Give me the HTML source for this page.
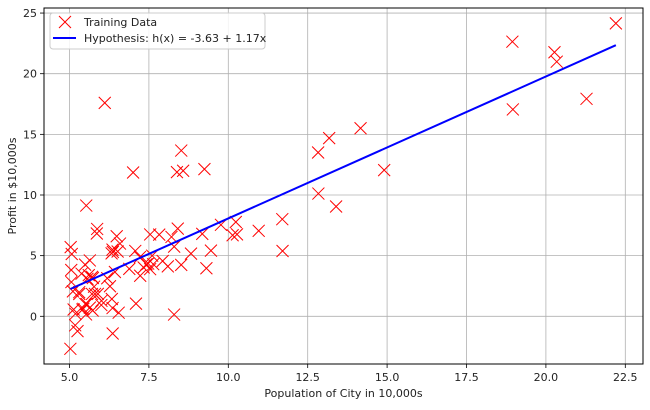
<!DOCTYPE html>
<html><head><meta charset="utf-8"><style>
body{margin:0;background:#fff;font-family:"DejaVu Sans","Liberation Sans",sans-serif;}
svg text{font-family:"DejaVu Sans","Liberation Sans",sans-serif;font-size:11px;fill:#222;}
</style></head><body>
<svg id="chart" width="650" height="406" viewBox="0 0 650 406" xmlns="http://www.w3.org/2000/svg">
<rect width="650" height="406" fill="#fff"/>
<g id="grid"></g><g id="marks"></g><g id="axes"></g>
</svg>
<script>
const popX=[6.1101,5.5277,8.5186,7.0032,5.8598,8.3829,7.4764,8.5781,6.4862,5.0546,5.7107,14.164,5.734,8.4084,5.6407,5.3794,6.3654,5.1301,6.4296,7.0708,6.1891,20.27,5.4901,6.3261,5.5649,18.945,12.828,10.957,13.176,22.203,5.2524,6.5894,9.2482,5.8918,8.2111,7.9334,8.0959,5.6063,12.836,6.3534,5.4069,6.8825,11.708,5.7737,7.8247,7.0931,5.0702,5.8014,11.7,5.5416,7.5402,5.3077,7.4239,7.6031,6.3328,6.3589,6.2742,5.6397,9.3102,9.4536,8.8254,5.1793,21.279,14.908,18.959,7.2182,8.2951,10.236,5.4994,20.341,10.136,7.3345,6.0062,7.2259,5.0269,6.5479,7.5386,5.0365,10.274,5.1077,5.7292,5.1884,6.3557,9.7687,6.5159,8.5172,9.1802,6.002,5.5204,5.0594,5.7077,7.6366,5.8707,5.3054,8.2934,13.394,5.4369];
const profitY=[17.592,9.1302,13.662,11.854,6.8233,11.886,4.3483,12,6.5987,3.8166,3.2522,15.505,3.1551,7.2258,0.71618,3.5129,5.3048,0.56077,3.6518,5.3893,3.1386,21.767,4.263,5.1875,3.0825,22.638,13.501,7.0467,14.692,24.147,-1.22,5.9966,12.134,1.8495,6.5426,4.5623,4.1164,3.3928,10.117,5.4974,0.55657,3.9115,5.3854,2.4406,6.7318,1.0463,5.1337,1.844,8.0043,1.0179,6.7504,1.8396,4.2885,4.9981,1.4233,-1.4211,2.4756,4.6042,3.9624,5.4141,5.1694,-0.74279,17.929,12.054,17.054,4.8852,5.7442,7.7754,1.0173,20.992,6.6799,4.0259,1.2784,3.3411,-2.6807,0.29678,3.8845,5.7014,6.7526,2.0576,0.47953,0.20421,0.67861,7.5435,5.3436,4.2415,6.7981,0.92695,0.152,2.8214,1.8451,4.2959,7.2029,1.9869,0.14454,9.0551,0.61705];
const theta=[-3.63,1.17];
const xTicks=[5.0,7.5,10.0,12.5,15.0,17.5,20.0,22.5];
const yTicks=[0,5,10,15,20,25];
const L=44,R=643,T=8,B=364;
const sx=v=>69.5+(v-5)*31.76;
const sy=v=>316.3-v*12.13;
const NS="http://www.w3.org/2000/svg";
function mk(p,t,a){const e=document.createElementNS(NS,t);for(const k in a)e.setAttribute(k,a[k]);p.appendChild(e);return e;}
const grid=document.getElementById('grid'),marks=document.getElementById('marks'),axes=document.getElementById('axes');
xTicks.forEach(t=>{const x=sx(t);
const g=mk(grid,'line',{x1:x,x2:x,y1:T,y2:B,stroke:'#b0b0b0','stroke-width':0.8});


mk(axes,'line',{x1:x,x2:x,y1:B,y2:B+4,stroke:'#000','stroke-width':0.8});
const tx=mk(axes,'text',{x:x,y:B+17,'text-anchor':'middle'});tx.textContent=t.toFixed(1);

});
yTicks.forEach(t=>{const y=sy(t);
const g=mk(grid,'line',{x1:L,x2:R,y1:y,y2:y,stroke:'#b0b0b0','stroke-width':0.8});


mk(axes,'line',{x1:L-4,x2:L,y1:y,y2:y,stroke:'#000','stroke-width':0.8});
const tx=mk(axes,'text',{x:L-7,y:y+4,'text-anchor':'end'});tx.textContent=t;

});
popX.forEach((v,i)=>{const x=sx(v),y=sy(profitY[i]),s=6;
const p=mk(marks,'path',{d:`M${x-s},${y-s}L${x+s},${y+s}M${x-s},${y+s}L${x+s},${y-s}`,stroke:'#ff0000','stroke-width':1,fill:'none'});

});
const xmin=Math.min(...popX),xmax=Math.max(...popX);
const ln=mk(marks,'line',{x1:sx(xmin),y1:sy(theta[0]+theta[1]*xmin),x2:sx(xmax),y2:sy(theta[0]+theta[1]*xmax),stroke:'#0000ff','stroke-width':2});


const fr=mk(axes,'rect',{x:L,y:T,width:R-L,height:B-T,fill:'none',stroke:'#000','stroke-width':1});


const xl=mk(axes,'text',{x:(L+R)/2,y:397,'text-anchor':'middle'});xl.textContent='Population of City in 10,000s';


const yl=mk(axes,'text',{x:0,y:0,'text-anchor':'middle',transform:`translate(16,${(T+B)/2}) rotate(-90)`});yl.textContent='Profit in $10,000s';


const lg=mk(axes,'g',{});


mk(lg,'rect',{x:50,y:13,width:215,height:36,rx:3,fill:'#fff','fill-opacity':0.85,stroke:'#ccc'});
mk(lg,'path',{d:'M59,16L71,28M59,28L71,16',stroke:'#ff0000','stroke-width':1});
mk(lg,'line',{x1:53,x2:76,y1:38,y2:38,stroke:'#0000ff','stroke-width':2});
const t1=mk(lg,'text',{x:84,y:26});t1.textContent='Training Data';


const t2=mk(lg,'text',{x:84,y:42});t2.textContent='Hypothesis: h(x) = -3.63 + 1.17x';


</script>
</body></html>
